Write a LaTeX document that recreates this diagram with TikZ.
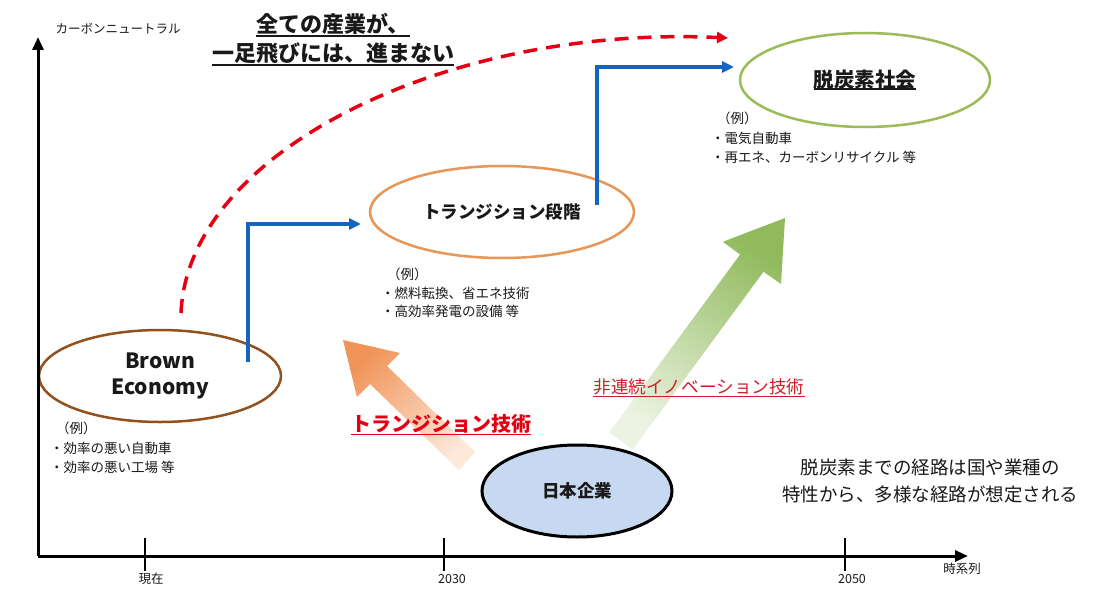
\documentclass[tikz,border=0pt]{standalone}
\usepackage{fontspec}
\setmainfont{Noto Sans CJK JP}
\usetikzlibrary{arrows.meta,calc,shapes.geometric}
\definecolor{brownc}{RGB}{145,80,28}
\definecolor{orangec}{RGB}{232,150,85}
\definecolor{greenc}{RGB}{155,187,89}
\definecolor{bluec}{RGB}{21,101,192}
\definecolor{redc}{RGB}{228,0,18}
\definecolor{redtxt}{RGB}{205,30,40}
\definecolor{fillblue}{RGB}{198,217,240}
\definecolor{txt}{RGB}{25,25,25}
\definecolor{orangetip}{RGB}{241,148,88}
\definecolor{orangetail}{RGB}{253,232,218}
\definecolor{greentip}{RGB}{144,186,92}
\definecolor{greentail}{RGB}{236,243,227}
\begin{document}
\begin{tikzpicture}[x=1pt,y=-1pt,
  lbl/.style={inner sep=0pt, text=txt},
  stage/.style={ellipse, line width=2.5pt, inner sep=0pt, text=txt},
  bluearr/.style={draw=bluec, line width=3.5pt, -{Triangle[length=12pt,width=11pt]}},
  axisline/.style={line width=3pt, -{Triangle[length=13pt,width=11pt]}},
  axtick/.style={line width=2.5pt},
  uline/.style={line width=1.4pt},
]
\fill[white] (0,0) rectangle (1095,602);
\useasboundingbox (0,0) rectangle (1095,602);

% gradient arrows
\shade[top color=orangetip, bottom color=orangetail, shading angle=45]
  (343,340) -- (400,353) -- (387,366) -- (475,452) -- (459,470) -- (370,384) -- (357,397) -- cycle;
\shade[top color=greentip, bottom color=greentail, shading angle=-34]
  (785,218) -- (781,284) -- (763.5,271.7) -- (632.7,449.6) -- (609.3,432.4) -- (740.1,254.5) -- (722.8,241.8) -- cycle;

% stages
\node[stage, draw=brownc, minimum width=242pt, minimum height=92pt, align=center,
  font=\fontsize{21}{26}\selectfont\bfseries] (brown) at (160,376) {Brown\\Economy};
\node[stage, draw=orangec, minimum width=264pt, minimum height=92pt,
  font=\fontsize{17.5}{20}\selectfont\bfseries] (trans) at (502,212) {トランジション段階};
\node[stage, draw=greenc, minimum width=250pt, minimum height=94pt] (goal) at (865,80) {};
\node[lbl, font=\fontsize{20.5}{24}\selectfont\bfseries] (goaltxt) at (goal.center) {脱炭素社会};
\draw[uline, txt] ([yshift=1pt]goaltxt.south west) -- ([yshift=1pt]goaltxt.south east);
\node[ellipse, draw=black, fill=fillblue, line width=3pt, minimum width=190pt, minimum height=92pt,
  inner sep=0pt, font=\fontsize{17.5}{20}\selectfont\bfseries, text=txt] (jp) at (577,491) {日本企業};

% examples
\node[lbl, anchor=west, align=left, font=\fontsize{13.5}{19.5}\selectfont] (exb) at (50,448)
  {\hspace*{6pt}（例）\\・効率の悪い自動車\\・効率の悪い工場\ 等};
\node[lbl, anchor=west, align=left, font=\fontsize{13.5}{18.5}\selectfont] (ext) at (381,293)
  {\hspace*{6pt}（例）\\・燃料転換、省エネ技術\\・高効率発電の設備\ 等};
\node[lbl, anchor=west, align=left, font=\fontsize{13.5}{19.5}\selectfont] (exg) at (711,138)
  {\hspace*{6pt}（例）\\・電気自動車\\・再エネ、カーボンリサイクル\ 等};

% step arrows
\coordinate (s1) at (248,362);
\coordinate (e1) at (361,224);
\coordinate (s2) at (597,205);
\coordinate (e2) at (734,67);
\draw[bluearr] (s1) |- (e1);
\draw[bluearr] (s2) |- (e2);

% red dashed leap
\coordinate (r0) at (181,313);
\coordinate (r1) at (728,38);
\draw[redc, line width=3.5pt, dash pattern=on 14pt off 9pt, -{Triangle[length=11pt,width=11pt]}]
  (r0) .. controls (188,150) and (450,25) .. (r1);

% title
\node[lbl, font=\fontsize{22}{24}\selectfont\bfseries] (t1) at (333,24) {全ての産業が、};
\node[lbl, font=\fontsize{22}{24}\selectfont\bfseries] (t2) at (333,53) {一足飛びには、進まない};
\draw[uline, txt] ([yshift=-1pt]t1.south west) -- ([yshift=-1pt]t1.south east);
\draw[uline, txt] ([yshift=-1pt]t2.south west) -- ([yshift=-1pt]t2.south east);

% technology labels
\node[lbl, text=redc, font=\fontsize{20}{22}\selectfont\bfseries] (tt) at (441,424) {トランジション技術};
\draw[uline, redc] ([yshift=-1pt]tt.south west) -- ([yshift=-1pt]tt.south east);
\node[lbl, text=redtxt, font=\fontsize{17.6}{20}\selectfont] (it) at (699,387) {非連続イノベーション技術};
\draw[line width=1pt, redtxt] ([yshift=-1pt]it.south west) -- ([yshift=-1pt]it.south east);

% note
\node[lbl, align=center, font=\fontsize{18.5}{27}\selectfont] (note) at (930,481)
  {脱炭素までの経路は国や業種の\\特性から、多様な経路が想定される};

% axes
\coordinate (o) at (38,556);
\coordinate (ytop) at (38,37);
\coordinate (xend) at (968,556);
\draw[axisline] (o) -- (ytop);
\draw[axisline] (o) -- (xend);
\node[lbl, font=\fontsize{12.5}{14}\selectfont] (ylab) at (118,29) {カーボンニュートラル};
\node[lbl, font=\fontsize{12.5}{14}\selectfont] (xlab) at (962,569) {時系列};
\draw[axtick] (145,538) -- (145,571);
\draw[axtick] (444,538) -- (444,571);
\draw[axtick] (845,538) -- (845,571);
\node[lbl, font=\fontsize{12.5}{14}\selectfont] (l0) at (151,579) {現在};
\node[lbl, font=\fontsize{12.5}{14}\selectfont] (l1) at (452,579) {2030};
\node[lbl, font=\fontsize{12.5}{14}\selectfont] (l2) at (852,579) {2050};
\end{tikzpicture}
\end{document}
